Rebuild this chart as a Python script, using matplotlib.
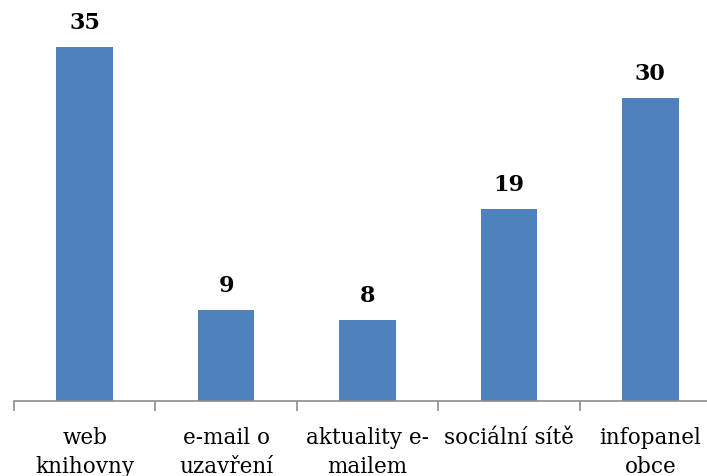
import matplotlib
matplotlib.use("Agg")
import matplotlib.pyplot as plt

categories = ["web\nknihovny", "e-mail o\nuzavření", "aktuality e-\nmailem", "sociální sítě", "infopanel\nobce"]
values = [35, 9, 8, 19, 30]

W, H = 707, 477
fig = plt.figure(figsize=(W/100, H/100), dpi=100)
left = 14 / W
width = (721 - 14) / W
bottom = (H - 402) / H
ax = fig.add_axes([left, bottom, width, 1 - bottom])
ax.set_xlim(-0.5, 4.5)
ax.set_ylim(0, 402 / 10.11)

x = list(range(len(categories)))
ax.bar(x, values, width=0.4, color="#4F81BD")
for xi, v in zip(x, values):
    ax.text(xi, v + 1.4, str(v), ha="center", va="bottom", fontsize=16,
            fontweight="bold", family="DejaVu Serif")

for s in ["top", "right", "left"]:
    ax.spines[s].set_visible(False)
ax.spines["bottom"].set_color("#8c8c8c")
ax.spines["bottom"].set_linewidth(1.2)
ax.set_yticks([])
ax.set_xticks([i - 0.5 for i in range(6)])
ax.set_xticklabels([])
ax.tick_params(axis="x", direction="out", length=7, color="#8c8c8c", width=1.2)
ax.set_xticks(x, minor=True)
ax.set_xticklabels(categories, minor=True, fontsize=15.5, family="DejaVu Serif", linespacing=1.4)
ax.tick_params(axis="x", which="minor", length=0, pad=18)

fig.savefig("out.png", dpi=100)
